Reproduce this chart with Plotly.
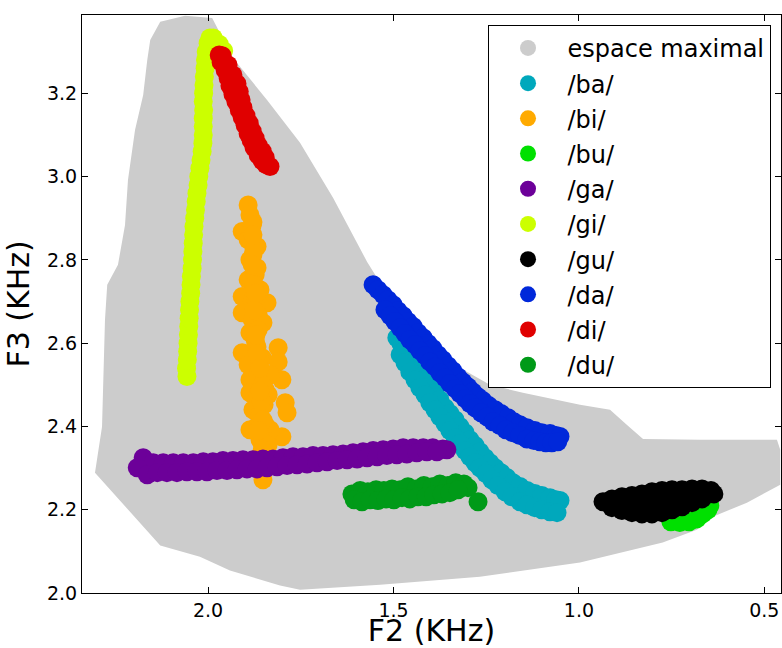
import plotly.graph_objects as go

# ---------------- data (F2, F3 in kHz) ----------------
espace_f2 = [2.156, 2.129, 2.062, 1.989, 1.933, 1.841, 1.752, 1.663, 1.571, 1.482, 1.402, 1.321, 1.240,
             1.151, 0.997, 0.916, 0.871, 0.827, 0.674, 0.466, 0.457, 0.457, 0.547, 0.639, 0.682, 0.774,
             0.997, 1.267, 1.536, 1.752, 1.806, 1.941, 2.022, 2.129, 2.305, 2.286, 2.278, 2.272, 2.243,
             2.224, 2.216, 2.197, 2.175, 2.164]
espace_f3 = [3.328, 3.372, 3.386, 3.381, 3.285, 3.184, 3.081, 2.949, 2.795, 2.668, 2.596, 2.541, 2.500,
             2.481, 2.452, 2.440, 2.404, 2.370, 2.368, 2.368, 2.344, 2.260, 2.217, 2.183, 2.152, 2.121,
             2.073, 2.039, 2.020, 2.008, 2.018, 2.054, 2.087, 2.114, 2.289, 2.399, 2.656, 2.740, 2.788,
             2.884, 2.992, 3.112, 3.196, 3.280]

ba_f2 = [1.491, 1.480, 1.469, 1.456, 1.442, 1.429, 1.415, 1.402, 1.388, 1.375, 1.361, 1.348, 1.334, 1.321, 1.307,
         1.294, 1.280, 1.267, 1.253, 1.240, 1.226, 1.210, 1.194, 1.178, 1.159, 1.140, 1.119, 1.100, 1.078, 1.062, 1.051,
         1.482, 1.469, 1.456, 1.442, 1.429, 1.415, 1.402, 1.388, 1.375, 1.361, 1.348, 1.334, 1.321, 1.307,
         1.294, 1.280, 1.267, 1.251, 1.235, 1.218, 1.199, 1.181, 1.159, 1.140, 1.119, 1.100, 1.078, 1.059]
ba_f3 = [2.613, 2.599, 2.584, 2.568, 2.548, 2.531, 2.512, 2.498, 2.481, 2.464, 2.445, 2.431, 2.416, 2.400, 2.385,
         2.368, 2.354, 2.339, 2.325, 2.313, 2.301, 2.289, 2.277, 2.265, 2.256, 2.246, 2.239, 2.234, 2.229, 2.224, 2.222,
         2.572, 2.553, 2.531, 2.512, 2.493, 2.476, 2.457, 2.440, 2.423, 2.407, 2.390, 2.373, 2.359, 2.342,
         2.327, 2.313, 2.301, 2.287, 2.272, 2.258, 2.243, 2.231, 2.219, 2.212, 2.205, 2.200, 2.195, 2.193]

bi_f2 = [1.892, 1.879, 1.908, 1.892, 1.868, 1.887, 1.868, 1.892, 1.860, 1.908, 1.841, 1.908, 1.852, 1.887, 1.868,
         1.908, 1.811, 1.811, 1.887, 1.801, 1.887, 1.792, 1.787, 1.879, 1.860, 1.887, 1.801, 1.860, 1.854, 1.852, 1.846,
         1.879, 1.873, 1.881, 1.865, 1.873, 1.854, 1.865, 1.846, 1.854, 1.865, 1.833, 1.846, 1.854, 1.892, 1.833, 1.838,
         1.887, 1.881, 1.876, 1.881, 1.876, 1.871, 1.881, 1.865, 1.871, 1.860, 1.865, 1.854, 1.865, 1.849, 1.860,
         1.846, 1.860, 1.838, 1.854, 1.846, 1.865,
         1.871, 1.868, 1.860, 1.857, 1.852, 1.865, 1.876, 1.879, 1.871, 1.860]
bi_f3 = [2.932, 2.891, 2.868, 2.848, 2.832, 2.800, 2.781, 2.752, 2.728, 2.712, 2.697, 2.673, 2.649, 2.625, 2.591,
         2.577, 2.589, 2.555, 2.512, 2.512, 2.481, 2.457, 2.433, 2.440, 2.423, 2.392, 2.375, 2.368, 2.339, 2.272, 2.315,
         2.812, 2.764, 2.704, 2.668, 2.608, 2.565, 2.536, 2.488, 2.464, 2.404, 2.392, 2.344, 2.296, 2.548, 2.524, 2.476,
         2.908, 2.884, 2.824, 2.788, 2.740, 2.704, 2.656, 2.632, 2.596, 2.560, 2.524, 2.500, 2.476, 2.452, 2.428,
         2.404, 2.375, 2.356, 2.344, 2.320, 2.325,
         2.620, 2.575, 2.540, 2.460, 2.415, 2.390, 2.680, 2.860, 2.720, 2.485]

bu_f2 = [0.752, 0.728, 0.703, 0.682, 0.666, 0.652, 0.647]
bu_f3 = [2.171, 2.169, 2.171, 2.178, 2.190, 2.200, 2.210]

ga_f2 = [2.175, 2.148, 2.121, 2.094, 2.067, 2.040, 2.013, 1.987, 1.960, 1.933, 1.906, 1.879, 1.852, 1.825, 1.798,
         1.771, 1.744, 1.717, 1.690, 1.663, 1.636, 1.609, 1.582, 1.555, 1.528, 1.501, 1.474, 1.447, 1.420, 1.394,
         1.367, 1.356,
         2.191, 2.164, 2.137, 2.111, 2.084, 2.057, 2.030, 2.003, 1.976, 1.949, 1.922, 1.895, 1.868, 1.841, 1.814,
         1.787, 1.760, 1.733, 1.706, 1.679, 1.652, 1.625, 1.598, 1.571, 1.544, 1.518, 1.491, 1.464, 1.437, 1.410,
         1.383]
ga_f3 = [2.325, 2.313, 2.313, 2.313, 2.313, 2.313, 2.315, 2.315, 2.318, 2.318, 2.320, 2.320, 2.322, 2.322, 2.325,
         2.327, 2.327, 2.330, 2.330, 2.332, 2.334, 2.337, 2.339, 2.342, 2.344, 2.346, 2.349, 2.349, 2.349, 2.349,
         2.346, 2.344,
         2.301, 2.284, 2.289, 2.289, 2.289, 2.291, 2.291, 2.291, 2.294, 2.294, 2.296, 2.298, 2.298, 2.301, 2.303,
         2.306, 2.308, 2.310, 2.313, 2.315, 2.318, 2.320, 2.322, 2.325, 2.327, 2.330, 2.332, 2.334, 2.337, 2.339,
         2.339]

gi_f2 = [2.057, 2.058, 2.056, 2.055, 2.054, 2.053, 2.052, 2.051, 2.050, 2.049, 2.047, 2.046, 2.045, 2.043, 2.042,
         2.041, 2.040, 2.039, 2.038, 2.036, 2.034, 2.032, 2.030, 2.027, 2.025, 2.022, 2.019, 2.016, 2.014, 2.013,
         2.013, 2.013, 2.012, 2.013, 2.012, 2.011, 2.010, 2.008, 2.007, 2.005, 2.000, 1.995, 1.986, 1.970, 1.958]
gi_f3 = [2.520, 2.540, 2.560, 2.580, 2.600, 2.620, 2.640, 2.660, 2.680, 2.700, 2.720, 2.740, 2.760, 2.780, 2.800,
         2.820, 2.840, 2.860, 2.880, 2.900, 2.920, 2.940, 2.960, 2.980, 3.000, 3.020, 3.040, 3.060, 3.080, 3.100,
         3.120, 3.140, 3.160, 3.180, 3.200, 3.220, 3.240, 3.260, 3.280, 3.300, 3.320, 3.333, 3.333, 3.318, 3.302]

gu_f2 = [0.935, 0.911, 0.884, 0.857, 0.830, 0.803, 0.776, 0.749, 0.722, 0.695, 0.668, 0.644, 0.636,
         0.911, 0.884, 0.857, 0.830, 0.803, 0.776, 0.749, 0.722, 0.695, 0.668,
         0.911, 0.884, 0.857, 0.830, 0.803, 0.776, 0.749, 0.722, 0.695, 0.668]
gu_f3 = [2.219, 2.226, 2.231, 2.234, 2.238, 2.243, 2.246, 2.248, 2.248, 2.250, 2.250, 2.246, 2.238,
         2.205, 2.198, 2.193, 2.190, 2.190, 2.193, 2.200, 2.207, 2.217, 2.226,
         2.215, 2.215, 2.215, 2.216, 2.217, 2.219, 2.222, 2.226, 2.230, 2.236]

da_f2 = [1.555, 1.542, 1.528, 1.515, 1.501, 1.488, 1.474, 1.461, 1.447, 1.434, 1.420, 1.407, 1.394, 1.380, 1.367,
         1.353, 1.340, 1.326, 1.313, 1.299, 1.286, 1.272, 1.259, 1.243, 1.226, 1.210, 1.191, 1.175, 1.159, 1.140,
         1.119, 1.100, 1.078, 1.062, 1.051,
         1.523, 1.509, 1.496, 1.482, 1.469, 1.456, 1.442, 1.429, 1.415, 1.402, 1.388, 1.375, 1.361, 1.348, 1.334,
         1.321, 1.307, 1.294, 1.280, 1.264, 1.248, 1.232, 1.213, 1.197, 1.178, 1.159, 1.140, 1.121, 1.105, 1.089,
         1.073, 1.057]
da_f3 = [2.740, 2.728, 2.716, 2.704, 2.692, 2.678, 2.666, 2.652, 2.640, 2.625, 2.613, 2.599, 2.587, 2.572, 2.560,
         2.546, 2.534, 2.519, 2.507, 2.495, 2.483, 2.471, 2.462, 2.450, 2.440, 2.431, 2.421, 2.411, 2.404, 2.397,
         2.390, 2.385, 2.383, 2.378, 2.376,
         2.680, 2.666, 2.652, 2.637, 2.623, 2.608, 2.596, 2.582, 2.570, 2.555, 2.543, 2.529, 2.517, 2.503, 2.491,
         2.479, 2.467, 2.455, 2.445, 2.433, 2.423, 2.411, 2.402, 2.392, 2.385, 2.378, 2.370, 2.366, 2.363, 2.361,
         2.361, 2.363]

di_f2 = [1.970, 1.965, 1.954, 1.946, 1.941, 1.933, 1.925, 1.916, 1.908, 1.900, 1.892, 1.884, 1.876, 1.865, 1.854,
         1.844, 1.833,
         1.962, 1.946, 1.933, 1.922, 1.916, 1.911, 1.906, 1.898, 1.889, 1.881, 1.873, 1.865, 1.854, 1.846]
di_f3 = [3.292, 3.275, 3.256, 3.237, 3.218, 3.198, 3.180, 3.160, 3.142, 3.123, 3.103, 3.087, 3.070, 3.052, 3.038,
         3.029, 3.024,
         3.290, 3.268, 3.244, 3.223, 3.204, 3.184, 3.166, 3.147, 3.128, 3.109, 3.092, 3.075, 3.061, 3.046]

du_f2 = [1.612, 1.590, 1.569, 1.547, 1.526, 1.504, 1.482, 1.461, 1.439, 1.418, 1.396, 1.375, 1.353, 1.332, 1.310,
         1.299,
         1.606, 1.585, 1.563, 1.542, 1.520, 1.499, 1.477, 1.456, 1.434, 1.412, 1.391, 1.369, 1.348, 1.326,
         1.272]
du_f3 = [2.238, 2.246, 2.243, 2.248, 2.246, 2.250, 2.248, 2.255, 2.250, 2.258, 2.255, 2.262, 2.258, 2.265, 2.262,
         2.253,
         2.224, 2.219, 2.224, 2.222, 2.226, 2.224, 2.229, 2.226, 2.231, 2.231, 2.236, 2.238, 2.241, 2.248,
         2.219]

series = [
    ("/ba/", ba_f2, ba_f3, "#00A8BC"),
    ("/bi/", bi_f2, bi_f3, "#FFAA00"),
    ("/bu/", bu_f2, bu_f3, "#00E000"),
    ("/ga/", ga_f2, ga_f3, "#6C0099"),
    ("/gi/", gi_f2, gi_f3, "#CCFF00"),
    ("/gu/", gu_f2, gu_f3, "#000000"),
    ("/da/", da_f2, da_f3, "#0028DA"),
    ("/di/", di_f2, di_f3, "#E00000"),
    ("/du/", du_f2, du_f3, "#009A18"),
]

x_ticks = [2.0, 1.5, 1.0, 0.5]
y_ticks = [2.0, 2.2, 2.4, 2.6, 2.8, 3.0, 3.2]

MS = 19
GRAY = "#CCCCCC"

fig = go.Figure()
# legend entry for the maximal space
fig.add_trace(go.Scatter(x=[None], y=[None], mode="markers", name="espace maximal",
                         marker=dict(size=MS, color=GRAY), legendgroup="g0"))
# the maximal space itself (filled region)
fig.add_trace(go.Scatter(x=espace_f2, y=espace_f3, mode="none", fill="toself",
                         fillcolor=GRAY, showlegend=False, hoverinfo="skip"))
for i, (name, xs, ys, col) in enumerate(series):
    fig.add_trace(go.Scatter(x=xs, y=ys, mode="markers", name=name, legendgroup=f"g{i+1}",
                             marker=dict(size=MS, color=col, line=dict(width=0))))

axis_common = dict(showgrid=False, zeroline=False, showline=True, linecolor="black", linewidth=1,
                   mirror="allticks", ticks="inside", ticklen=6, tickcolor="black", automargin=False,
                   tickfont=dict(family="DejaVu Sans", size=19, color="black"))

fig.update_layout(
    width=782, height=648,
    margin=dict(l=82, r=1, t=15, b=55),
    plot_bgcolor="white", paper_bgcolor="white",
    font=dict(family="DejaVu Sans", color="black"),
    xaxis=dict(range=[2.34, 0.455], tickvals=x_ticks, tickformat=".1f",
               title=dict(text="F2 (KHz)", font=dict(size=30), standoff=3), **axis_common),
    yaxis=dict(range=[2.0, 3.388], tickvals=y_ticks, tickformat=".1f",
               title=dict(text="F3 (KHz)", font=dict(size=30), standoff=8), **axis_common),
    legend=dict(x=0.985, y=0.983, xanchor="right", yanchor="top",
                bgcolor="white", bordercolor="black", borderwidth=1,
                font=dict(family="DejaVu Sans", size=24, color="black"),
                traceorder="grouped", tracegroupgap=1, itemwidth=69),
    showlegend=True,
)

fig.write_html("out.html", config={"displayModeBar": False},
               post_script="document.body.style.margin='0px';document.body.style.overflow='hidden';")
